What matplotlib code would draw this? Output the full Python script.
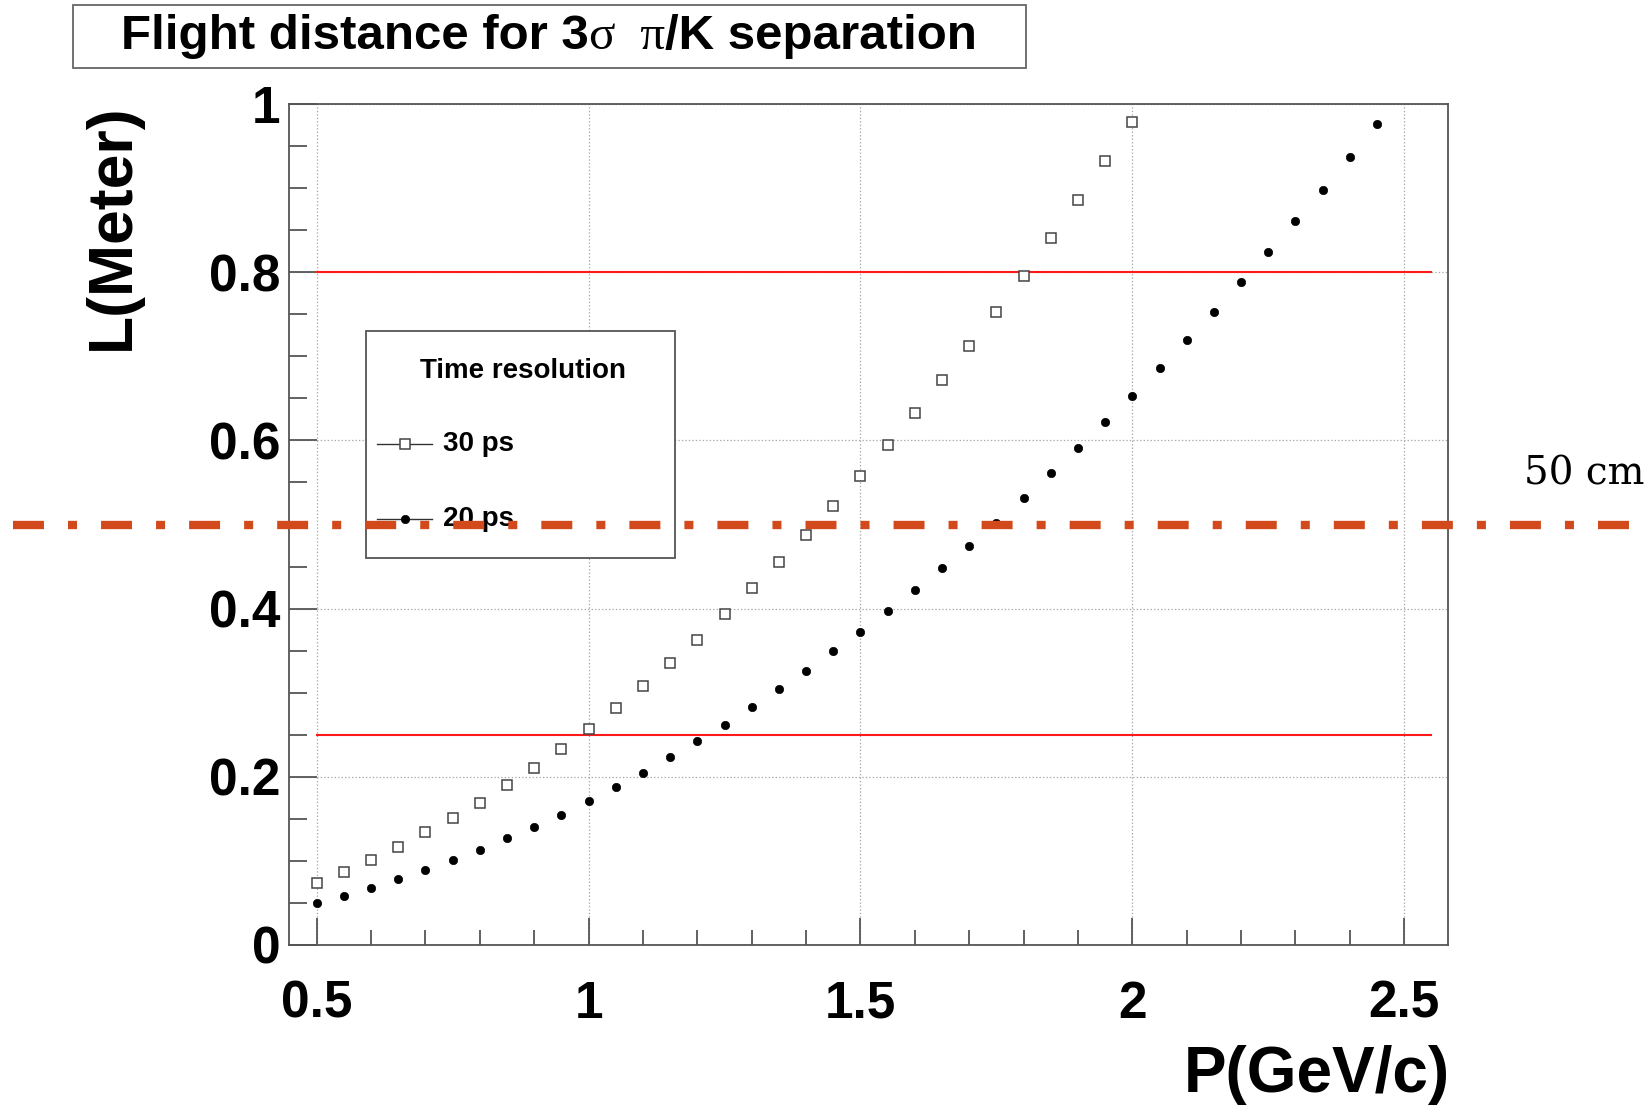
import matplotlib
matplotlib.use("Agg")
import matplotlib.pyplot as plt
from matplotlib.patches import Rectangle
from matplotlib.lines import Line2D
from matplotlib.ticker import MultipleLocator, FixedLocator
import matplotlib.transforms as mtransforms

plt.rcParams['lines.scale_dashes'] = False

# ---------------- data ----------------
p_30ps = [0.50, 0.55, 0.60, 0.65, 0.70, 0.75, 0.80, 0.85, 0.90, 0.95,
          1.00, 1.05, 1.10, 1.15, 1.20, 1.25, 1.30, 1.35, 1.40, 1.45,
          1.50, 1.55, 1.60, 1.65, 1.70, 1.75, 1.80, 1.85, 1.90, 1.95, 2.00]
L_30ps = [0.074, 0.087, 0.101, 0.116, 0.134, 0.151, 0.169, 0.190, 0.210, 0.233,
          0.257, 0.282, 0.308, 0.335, 0.363, 0.393, 0.424, 0.455, 0.488, 0.522,
          0.558, 0.595, 0.633, 0.672, 0.712, 0.753, 0.796, 0.841, 0.886, 0.932, 0.979]

p_20ps = [0.50, 0.55, 0.60, 0.65, 0.70, 0.75, 0.80, 0.85, 0.90, 0.95,
          1.00, 1.05, 1.10, 1.15, 1.20, 1.25, 1.30, 1.35, 1.40, 1.45,
          1.50, 1.55, 1.60, 1.65, 1.70, 1.75, 1.80, 1.85, 1.90, 1.95,
          2.00, 2.05, 2.10, 2.15, 2.20, 2.25, 2.30, 2.35, 2.40, 2.45]
L_20ps = [0.050, 0.058, 0.068, 0.078, 0.089, 0.101, 0.113, 0.127, 0.140, 0.155,
          0.171, 0.188, 0.205, 0.224, 0.242, 0.262, 0.283, 0.304, 0.326, 0.349,
          0.372, 0.397, 0.422, 0.448, 0.475, 0.502, 0.531, 0.561, 0.591, 0.622,
          0.653, 0.686, 0.719, 0.753, 0.788, 0.824, 0.861, 0.898, 0.937, 0.976]

red_levels = [0.25, 0.80]
red_x_range = [0.50, 2.55]
level_50cm = 0.5

x_ticks = [0.5, 1.0, 1.5, 2.0, 2.5]
x_ticklabels = ["0.5", "1", "1.5", "2", "2.5"]
y_ticks = [0.0, 0.2, 0.4, 0.6, 0.8, 1.0]
y_ticklabels = ["0", "0.2", "0.4", "0.6", "0.8", "1"]

title_parts = ["Flight distance for 3", "\u03c3  \u03c0", "/K separation"]
legend_title = "Time resolution"
legend_labels = ["30 ps", "20 ps"]
x_title = "P(GeV/c)"
y_title = "L(Meter)"
note_text = "50 cm"

# ---------------- figure ----------------
W, H = 1650, 1106
fig = plt.figure(figsize=(W / 100, H / 100), dpi=100)
fig.patch.set_facecolor("white")

def fx(x):
    return x / W

def fy(y):
    return 1 - y / H

ax_l, ax_r, ax_t, ax_b = 289, 1447.7, 104, 945
ax = fig.add_axes([fx(ax_l), fy(ax_b), (ax_r - ax_l) / W, (ax_b - ax_t) / H])
ax.set_xlim(0.449, 2.58)
ax.set_ylim(0, 1)

sans = "Liberation Sans"
serif = "Liberation Serif"
spine_c = "#555555"
for s in ax.spines.values():
    s.set_color(spine_c)
    s.set_linewidth(1.3)

ax.xaxis.set_major_locator(FixedLocator(x_ticks))
ax.set_xticklabels(x_ticklabels)
ax.xaxis.set_minor_locator(MultipleLocator(0.1))
ax.yaxis.set_major_locator(FixedLocator(y_ticks))
ax.set_yticklabels(y_ticklabels)
ax.yaxis.set_minor_locator(MultipleLocator(0.05))

ax.tick_params(axis="x", which="major", direction="in", length=19.5, width=1.3,
               color=spine_c, pad=25, labelsize=37)
ax.tick_params(axis="x", which="minor", direction="in", length=10.8, width=1.3,
               color=spine_c)
ax.tick_params(axis="y", which="major", direction="in", length=20, width=1.3,
               color=spine_c, pad=6, labelsize=37)
ax.tick_params(axis="y", which="minor", direction="in", length=12.7, width=1.3,
               color=spine_c)
for lab in ax.get_xticklabels() + ax.get_yticklabels():
    lab.set_fontfamily(sans)
    lab.set_fontweight("bold")

ax.grid(True, which="major", linestyle=(0, (1, 1.5)), color="#aaaaaa", linewidth=0.9)
ax.set_axisbelow(True)

# red reference lines
for lv in red_levels:
    ax.plot(red_x_range, [lv, lv], color="#ff1a1a", lw=1.5, zorder=2)

# data
sq_style = dict(marker="s", ms=6.6, mfc="white", mec="#444444", mew=1.1)
dot_style = dict(marker="o", ms=6.0, mfc="black", mec="black", mew=0.5)
ax.plot(p_30ps, L_30ps, linestyle="none", zorder=4, **sq_style)
ax.plot(p_20ps, L_20ps, linestyle="none", zorder=4, **dot_style)

# axis titles
fig.text(fx(1450), fy(1045), x_title, ha="right", va="top", fontsize=46,
         fontweight="bold", family=sans)
fig.text(fx(142), fy(103), y_title, ha="right", va="top", rotation=90,
         fontsize=45, fontweight="bold", family=sans)

# title box
fig.add_artist(Rectangle((fx(72.7), fy(67.7)), (1026 - 72.7) / W, (67.7 - 5) / H,
                         transform=fig.transFigure, facecolor="white",
                         edgecolor="#666666", lw=1.3, zorder=3))
renderer = fig.canvas.get_renderer()
fonts = [dict(family=sans, weight="bold"), dict(family=serif, weight="normal"),
         dict(family=sans, weight="bold")]
tsize = 35.5
widths = []
tmp = []
for s, f in zip(title_parts, fonts):
    t = fig.text(0, 0, s, fontsize=tsize, **f)
    widths.append(t.get_window_extent(renderer).width)
    tmp.append(t)
for t in tmp:
    t.remove()
x0 = 549 - sum(widths) / 2
for s, f, w in zip(title_parts, fonts, widths):
    fig.text(fx(x0), fy(49), s, fontsize=tsize, ha="left", va="baseline",
             zorder=4, **f)
    x0 += w

# legend box
fig.add_artist(Rectangle((fx(366), fy(558)), (675 - 366) / W, (558 - 331) / H,
                         transform=fig.transFigure, facecolor="white",
                         edgecolor="#555555", lw=1.3, zorder=3))
fig.text(fx(523), fy(371), legend_title, ha="center", va="center", fontsize=20,
         fontweight="bold", family=sans, zorder=4)
leg_y = [444, 519]
for yy, lab, st in zip(leg_y, legend_labels, [sq_style, dot_style]):
    fig.add_artist(Line2D([fx(377), fx(432)], [fy(yy), fy(yy)], color="#333333",
                          lw=1.0, transform=fig.transFigure, zorder=4))
    fig.add_artist(Line2D([fx(405)], [fy(yy)], linestyle="none",
                          transform=fig.transFigure, zorder=5, **st))
    fig.text(fx(443), fy(yy), lab, ha="left", va="center", fontsize=20,
             fontweight="bold", family=sans, zorder=4)

# 50 cm dash-dot line across the whole figure
blend = mtransforms.blended_transform_factory(fig.transFigure, ax.transData)
fig.add_artist(Line2D([fx(13), fx(1631)], [level_50cm, level_50cm],
                      transform=blend, color="#D24A1C", lw=6,
                      linestyle=(0, (22.3, 17.3, 6.5, 17.3)),
                      dash_capstyle="butt", solid_capstyle="butt", zorder=10))
fig.text(fx(1645), fy(485), note_text, ha="right", va="baseline",
         fontsize=28, family="DejaVu Serif", zorder=10)

fig.savefig("out.png", dpi=100, facecolor="white")
